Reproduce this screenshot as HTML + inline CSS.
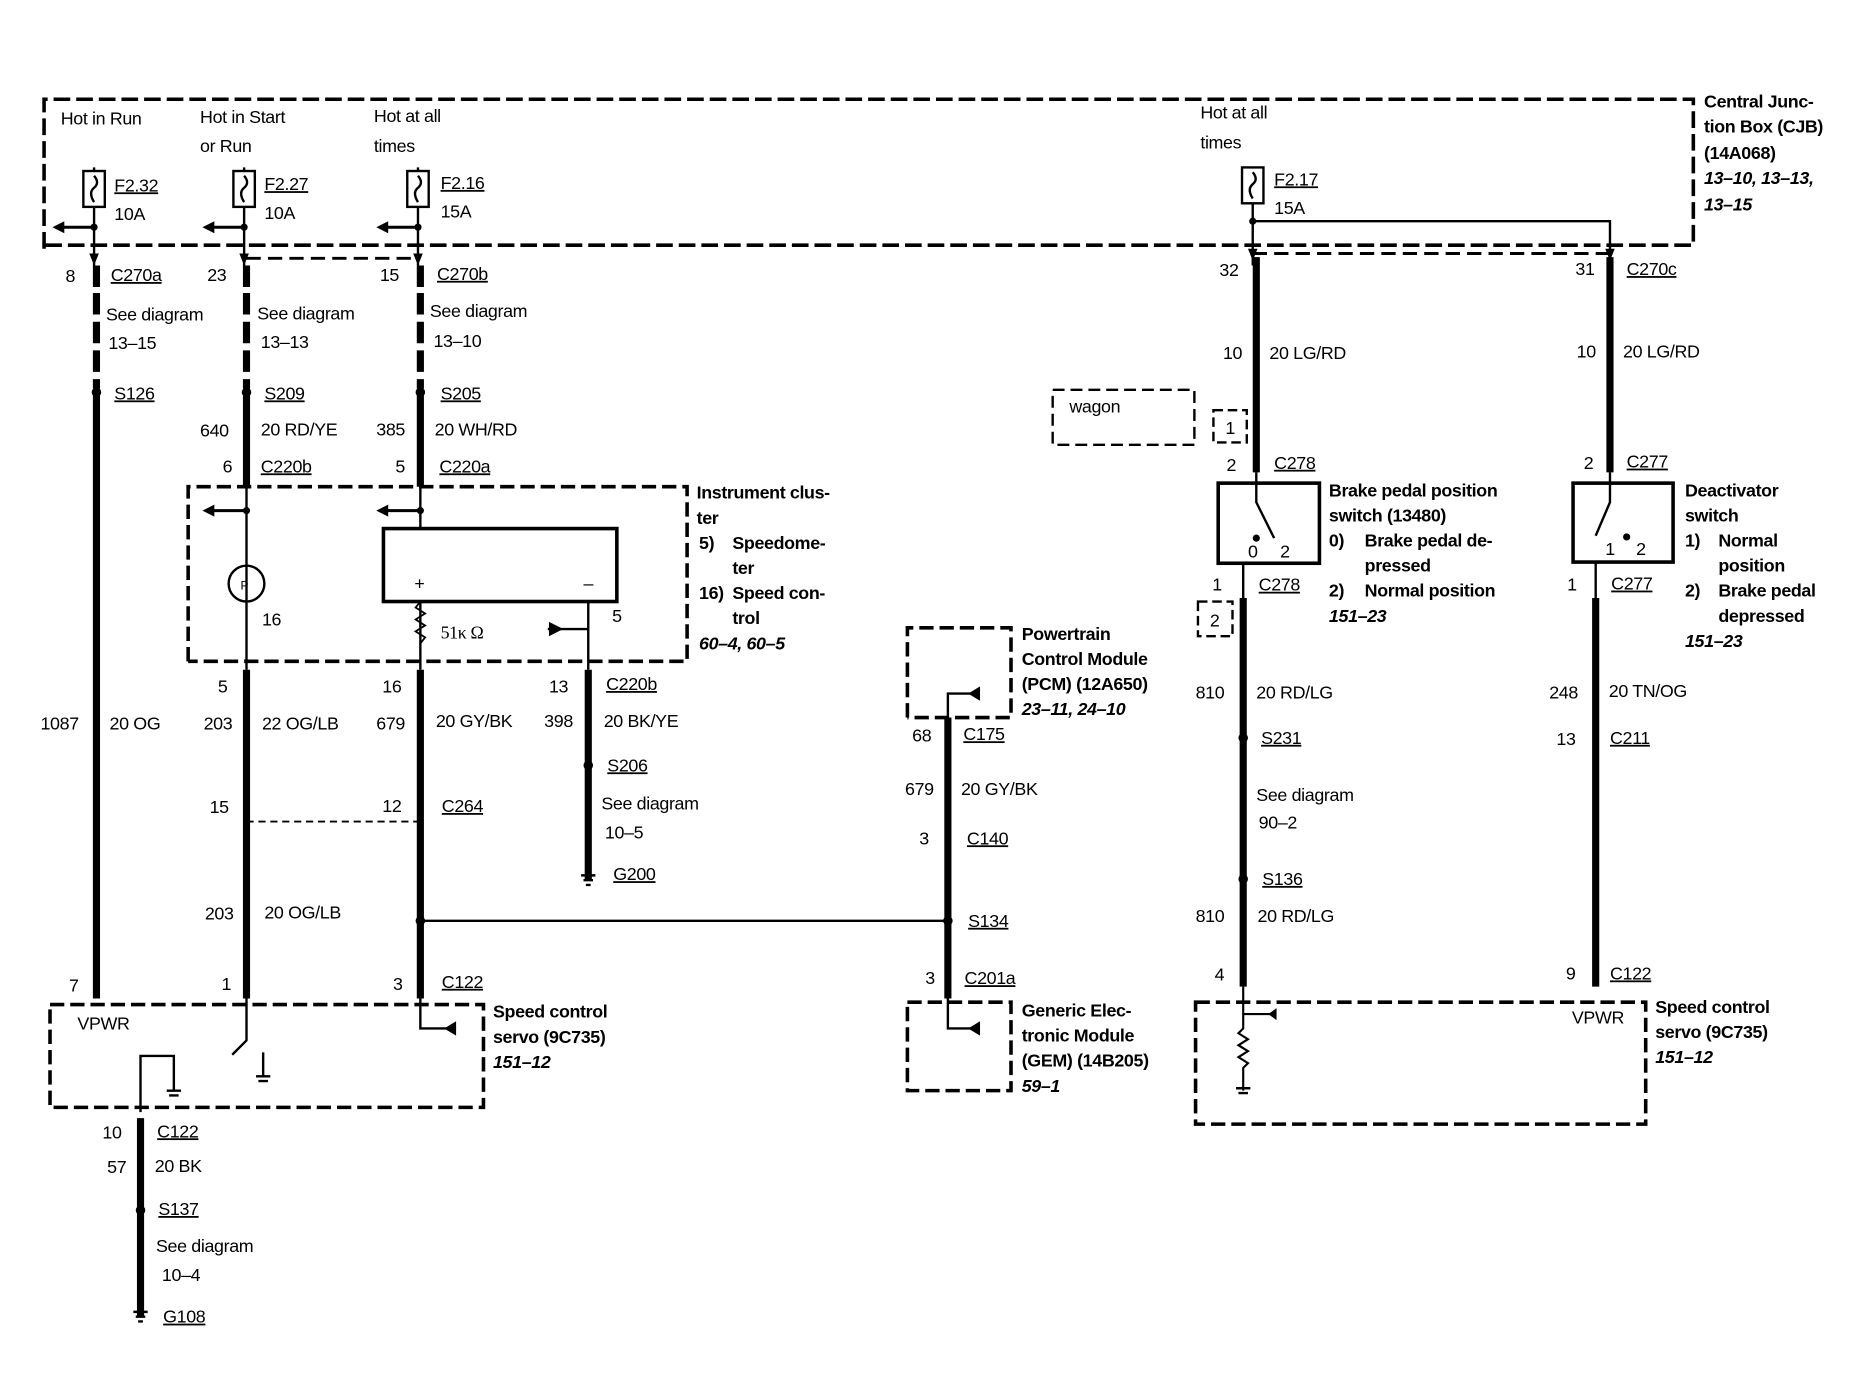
<!DOCTYPE html>
<html><head><meta charset="utf-8"><style>
html,body{margin:0;padding:0;background:#fff}
svg{display:block}
text{font-family:"Liberation Sans",Arial,sans-serif;font-size:15px;fill:#000;letter-spacing:-0.3px}
.b{font-weight:bold}
.i{font-weight:bold;font-style:italic}
</style></head><body>
<svg width="1866" height="1392" viewBox="0 0 1567 1164" preserveAspectRatio="none" xmlns="http://www.w3.org/2000/svg">
<g fill="none" stroke="#000">
<path d="M37,208 V83 H1422 V205 H37" stroke-width="3" stroke-dasharray="14,5"/>
<path d="M207,216 H353" stroke-width="2.5" stroke-dasharray="12,6"/>
<path d="M1052,212 H1352" stroke-width="2.5" stroke-dasharray="12,6"/>
<path d="M79,140 V222 M205,140 V222 M351,140 V222 M1052,140 V222 M1052,185 H1352 V222" stroke-width="2"/>
<path d="M81,222 V240 M81,330 V835" stroke-width="6"/>
<path d="M81,245 V325" stroke-width="6" stroke-dasharray="18,6"/>
<path d="M207,222 V240 M207,330 V407" stroke-width="6"/>
<path d="M207,245 V325" stroke-width="6" stroke-dasharray="18,6"/>
<path d="M353,222 V240 M353,330 V407" stroke-width="6"/>
<path d="M353,245 V325" stroke-width="6" stroke-dasharray="18,6"/>
<path d="M207,560 V835 M353,560 V835" stroke-width="6"/>
<path d="M1055,215 V395 M1352,215 V395" stroke-width="6"/>
<path d="M1044,500 V825 M1340,500 V825" stroke-width="6"/>
<path d="M796,600 V835" stroke-width="6"/>
<path d="M494,560 V735" stroke-width="6"/>
<path d="M118,935 V1100" stroke-width="6"/>
<path d="M207,407 V560 M353,407 V442 M353,503 V560 M494,503 V560" stroke-width="2"/>
<rect x="70" y="143" width="18" height="30" fill="#fff" stroke-width="2"/>
<rect x="196" y="143" width="18" height="30" fill="#fff" stroke-width="2"/>
<rect x="342" y="143" width="18" height="30" fill="#fff" stroke-width="2"/>
<rect x="1043" y="140" width="18" height="30" fill="#fff" stroke-width="2"/>
<path d="M79,147 q5,6 0,10 q-5,4 0,12 M205,147 q5,6 0,10 q-5,4 0,12 M351,147 q5,6 0,10 q-5,4 0,12 M1052,144 q5,6 0,10 q-5,4 0,12" stroke-width="2"/>
<path d="M79,190 H52 M205,190 H178 M351,190 H324 M207,427 H178 M353,427 H324" stroke-width="2.5"/>
<path d="M207,687 H353" stroke-width="1.5" stroke-dasharray="6,4"/>
<path d="M353,770 H796" stroke-width="2"/>
<path d="M158,553 V407 H577 V553 H158" stroke-width="3" stroke-dasharray="12,5"/>
<rect x="322" y="442" width="196" height="61" stroke-width="3"/>
<circle cx="207" cy="488" r="15" stroke-width="2"/>
<path d="M353,503 l-4,5 l8,5 l-8,5 l8,5 l-8,5 l8,5 l-4,5" stroke-width="1.5"/>
<path d="M460,526 H494" stroke-width="2"/>
<path d="M762,600 V525 H849 V600 H762" stroke-width="3" stroke-dasharray="12,5"/>
<path d="M796,600 V580 H822" stroke-width="2"/>
<path d="M762,838 H849 V912 H762 Z" stroke-width="3" stroke-dasharray="12,5"/>
<path d="M796,835 V860 H822" stroke-width="2"/>
<path d="M42,840 H406 V926 H42 Z" stroke-width="3" stroke-dasharray="12,5"/>
<path d="M207,835 V870 L195,882 M221,880 V900 M353,835 V860 H383 M118,930 V883 H146 V912" stroke-width="2"/>
<path d="M884,326 H1003 V372 H884 Z" stroke-width="2" stroke-dasharray="10,5"/>
<path d="M1019,343 H1047 V370 H1019 Z M1006,503 H1035 V532 H1006 Z" stroke-width="2" stroke-dasharray="8,4"/>
<rect x="1023" y="404" width="85" height="67" stroke-width="3"/>
<rect x="1321" y="404" width="84" height="66" stroke-width="3"/>
<path d="M1055,395 V420 L1070,450 M1044,500 V471 M1352,395 V420 L1340,448 M1340,500 V470" stroke-width="2"/>
<path d="M1004,838 H1382 V940 H1004 Z" stroke-width="3" stroke-dasharray="12,5"/>
<path d="M1044,825 V860 l-4,4 l8,5 l-8,5 l8,5 l-8,5 l8,5 l-4,4 V912 M1044,848 H1070" stroke-width="1.8"/>
</g>
<g fill="#000">
<circle cx="81" cy="328" r="4"/><circle cx="207" cy="328" r="4"/><circle cx="353" cy="328" r="4"/>
<circle cx="1044" cy="617" r="4"/><circle cx="1044" cy="735" r="4"/><circle cx="494" cy="640" r="4"/>
<circle cx="353" cy="770" r="4"/><circle cx="796" cy="770" r="4"/><circle cx="118" cy="1012" r="4"/>
<circle cx="79" cy="190" r="3"/><circle cx="205" cy="190" r="3"/><circle cx="351" cy="190" r="3"/><circle cx="1052" cy="185" r="3"/>
<circle cx="207" cy="427" r="3"/><circle cx="353" cy="427" r="3"/><circle cx="1055" cy="450" r="3"/><circle cx="1366" cy="449" r="3"/>
<path d="M44,190 l10,-5 v10z M170,190 l10,-5 v10z M316,190 l10,-5 v10z M170,427 l10,-5 v10z M316,427 l10,-5 v10z"/>
<path d="M75,212 l4,10 l4,-10z M201,212 l4,10 l4,-10z M347,212 l4,10 l4,-10z M1048,208 l4,10 l4,-10z M1348,208 l4,10 l4,-10z"/>
<path d="M461,520 l12,6 l-12,6z M823,574 l-10,6 l10,6z M823,854 l-10,6 l10,6z M383,854 l-10,6 l10,6z M1072,843 l0,10 l-7,-5z"/>
<path d="M112,1097 h12 M114,1101 h8 M116,1105 h4 M488,732 h12 M490,736 h8 M492,740 h4 M140,912 h12 M142,916 h8 M215,900 h12 M217,904 h8 M1038,910 h12 M1040,914 h8" stroke="#000" stroke-width="2"/>
</g>
<g>
<text x="51" y="104">Hot in Run</text>
<text x="168" y="103">Hot in Start</text><text x="168" y="127">or Run</text>
<text x="314" y="102">Hot at all</text><text x="314" y="127">times</text>
<text x="1008" y="99">Hot at all</text><text x="1008" y="124">times</text>
<text x="96" y="160" text-decoration="underline">F2.32</text><text x="96" y="184">10A</text>
<text x="222" y="159" text-decoration="underline">F2.27</text><text x="222" y="183">10A</text>
<text x="370" y="158" text-decoration="underline">F2.16</text><text x="370" y="182">15A</text>
<text x="1070" y="155" text-decoration="underline">F2.17</text><text x="1070" y="179">15A</text>
<text class="b" x="1431" y="90">Central Junc-</text><text class="b" x="1431" y="111">tion Box (CJB)</text>
<text class="b" x="1431" y="133">(14A068)</text><text class="i" x="1431" y="154">13–10, 13–13,</text><text class="i" x="1431" y="176">13–15</text>
<text x="55" y="236">8</text><text x="93" y="235" text-decoration="underline">C270a</text>
<text x="174" y="235">23</text>
<text x="319" y="235">15</text><text x="367" y="234" text-decoration="underline">C270b</text>
<text x="89" y="268">See diagram</text><text x="91" y="292">13–15</text>
<text x="216" y="267">See diagram</text><text x="219" y="291">13–13</text>
<text x="361" y="265">See diagram</text><text x="364" y="290">13–10</text>
<text x="96" y="334" text-decoration="underline">S126</text>
<text x="222" y="334" text-decoration="underline">S209</text>
<text x="370" y="334" text-decoration="underline">S205</text>
<text x="168" y="365">640</text><text x="219" y="364">20 RD/YE</text>
<text x="316" y="364">385</text><text x="365" y="364">20 WH/RD</text>
<text x="187" y="395">6</text><text x="219" y="395" text-decoration="underline">C220b</text>
<text x="332" y="395">5</text><text x="369" y="395" text-decoration="underline">C220a</text>
<text class="b" x="585" y="417">Instrument clus-</text><text class="b" x="585" y="438">ter</text>
<text class="b" x="587" y="459">5)</text><text class="b" x="615" y="459">Speedome-</text><text class="b" x="615" y="480">ter</text>
<text class="b" x="587" y="501">16)</text><text class="b" x="615" y="501">Speed con-</text><text class="b" x="615" y="522">trol</text>
<text class="i" x="587" y="543">60–4, 60–5</text>
<text x="202" y="493" style="font-size:10px">P</text>
<text x="220" y="523">16</text><text x="348" y="493">+</text><text x="490" y="493">–</text>
<text x="370" y="534" style="font-family:'Liberation Serif',serif">51κ Ω</text><text x="514" y="520">5</text>
<text x="183" y="579">5</text><text x="321" y="579">16</text><text x="461" y="579">13</text><text x="509" y="577" text-decoration="underline">C220b</text>
<text x="34" y="610">1087</text><text x="92" y="610">20 OG</text>
<text x="171" y="610">203</text><text x="220" y="610">22 OG/LB</text>
<text x="316" y="610">679</text><text x="366" y="608">20 GY/BK</text>
<text x="457" y="608">398</text><text x="507" y="608">20 BK/YE</text>
<text x="510" y="645" text-decoration="underline">S206</text>
<text x="505" y="677">See diagram</text><text x="508" y="701">10–5</text>
<text x="515" y="736" text-decoration="underline">G200</text>
<text x="176" y="680">15</text><text x="321" y="679">12</text><text x="371" y="679" text-decoration="underline">C264</text>
<text x="172" y="769">203</text><text x="222" y="768">20 OG/LB</text>
<text x="58" y="829">7</text><text x="186" y="828">1</text><text x="330" y="828">3</text><text x="371" y="826" text-decoration="underline">C122</text>
<text x="65" y="861">VPWR</text>
<text class="b" x="414" y="851">Speed control</text><text class="b" x="414" y="872">servo (9C735)</text><text class="i" x="414" y="893">151–12</text>
<text x="86" y="952">10</text><text x="132" y="951" text-decoration="underline">C122</text>
<text x="90" y="981">57</text><text x="130" y="980">20 BK</text>
<text x="133" y="1016" text-decoration="underline">S137</text>
<text x="131" y="1047">See diagram</text><text x="136" y="1071">10–4</text>
<text x="137" y="1106" text-decoration="underline">G108</text>
<text class="b" x="858" y="535">Powertrain</text><text class="b" x="858" y="556">Control Module</text>
<text class="b" x="858" y="577">(PCM) (12A650)</text><text class="i" x="858" y="598">23–11, 24–10</text>
<text x="766" y="620">68</text><text x="809" y="619" text-decoration="underline">C175</text>
<text x="760" y="665">679</text><text x="807" y="665">20 GY/BK</text>
<text x="772" y="706">3</text><text x="812" y="706" text-decoration="underline">C140</text>
<text x="813" y="775" text-decoration="underline">S134</text>
<text x="777" y="823">3</text><text x="810" y="823" text-decoration="underline">C201a</text>
<text class="b" x="858" y="850">Generic Elec-</text><text class="b" x="858" y="871">tronic Module</text>
<text class="b" x="858" y="892">(GEM) (14B205)</text><text class="i" x="858" y="913">59–1</text>
<text x="898" y="345">wagon</text><text x="1029" y="363">1</text><text x="1016" y="524">2</text>
<text x="1024" y="231">32</text><text x="1323" y="230">31</text><text x="1366" y="230" text-decoration="underline">C270c</text>
<text x="1027" y="300">10</text><text x="1066" y="300">20 LG/RD</text>
<text x="1324" y="299">10</text><text x="1363" y="299">20 LG/RD</text>
<text x="1030" y="394">2</text><text x="1070" y="392" text-decoration="underline">C278</text>
<text x="1330" y="392">2</text><text x="1366" y="391" text-decoration="underline">C277</text>
<text x="1048" y="466">0</text><text x="1075" y="466">2</text><text x="1348" y="464">1</text><text x="1374" y="464">2</text>
<text class="b" x="1116" y="415">Brake pedal position</text><text class="b" x="1116" y="436">switch (13480)</text>
<text class="b" x="1116" y="457">0)</text><text class="b" x="1146" y="457">Brake pedal de-</text><text class="b" x="1146" y="478">pressed</text>
<text class="b" x="1116" y="499">2)</text><text class="b" x="1146" y="499">Normal position</text><text class="i" x="1116" y="520">151–23</text>
<text class="b" x="1415" y="415">Deactivator</text><text class="b" x="1415" y="436">switch</text>
<text class="b" x="1415" y="457">1)</text><text class="b" x="1443" y="457">Normal</text><text class="b" x="1443" y="478">position</text>
<text class="b" x="1415" y="499">2)</text><text class="b" x="1443" y="499">Brake pedal</text><text class="b" x="1443" y="520">depressed</text><text class="i" x="1415" y="541">151–23</text>
<text x="1018" y="494">1</text><text x="1057" y="494" text-decoration="underline">C278</text>
<text x="1316" y="494">1</text><text x="1353" y="493" text-decoration="underline">C277</text>
<text x="1004" y="584">810</text><text x="1055" y="584">20 RD/LG</text>
<text x="1301" y="584">248</text><text x="1351" y="583">20 TN/OG</text>
<text x="1059" y="622" text-decoration="underline">S231</text>
<text x="1307" y="623">13</text><text x="1352" y="622" text-decoration="underline">C211</text>
<text x="1055" y="670">See diagram</text><text x="1057" y="693">90–2</text>
<text x="1060" y="740" text-decoration="underline">S136</text>
<text x="1004" y="771">810</text><text x="1056" y="771">20 RD/LG</text>
<text x="1020" y="820">4</text><text x="1315" y="819">9</text><text x="1352" y="819" text-decoration="underline">C122</text>
<text x="1320" y="856">VPWR</text>
<text class="b" x="1390" y="847">Speed control</text><text class="b" x="1390" y="868">servo (9C735)</text><text class="i" x="1390" y="889">151–12</text>
</g>
</svg>
</body></html>
